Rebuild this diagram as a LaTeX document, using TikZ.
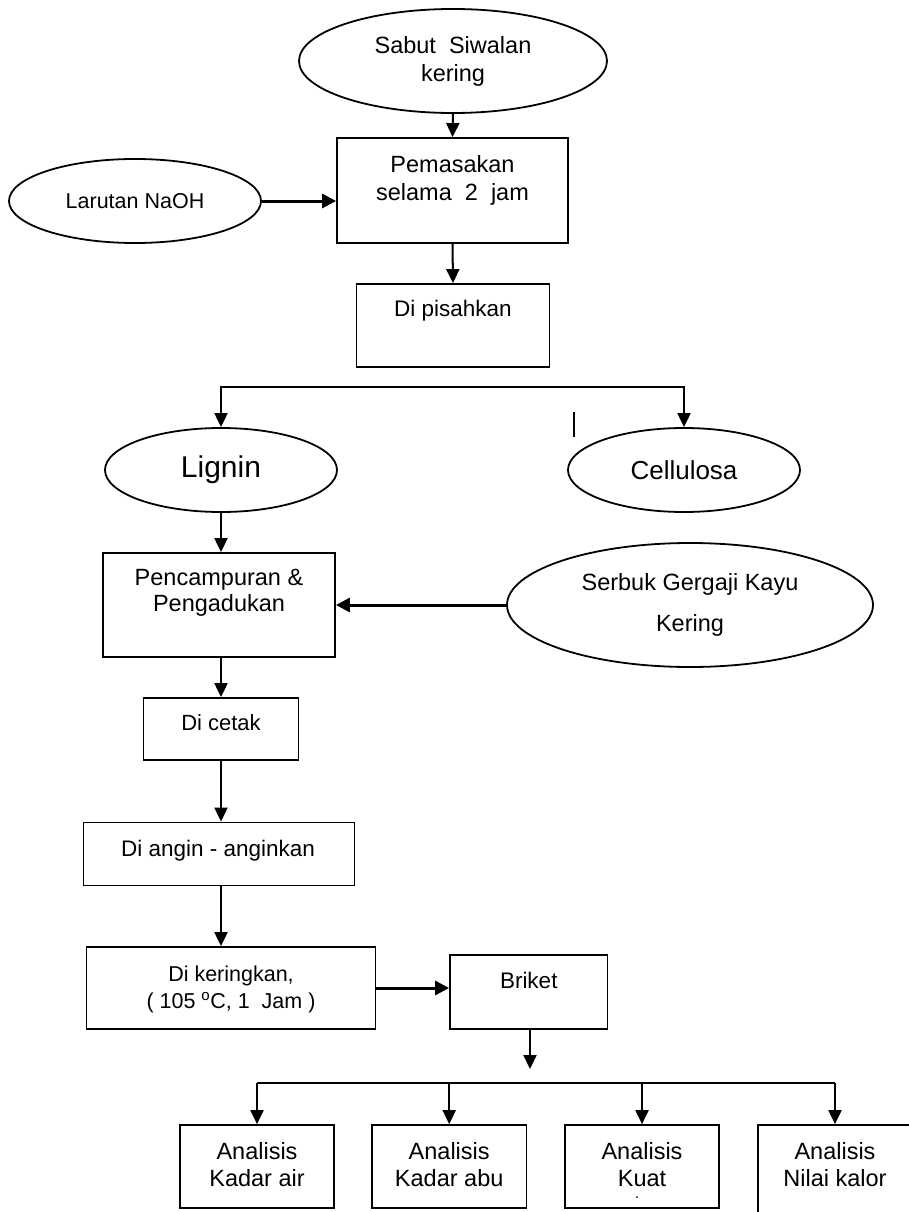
\documentclass[tikz,border=0pt]{standalone}
\usepackage{fontspec}
\setmainfont{Liberation Sans}
\usetikzlibrary{shapes.geometric,arrows.meta}
\begin{document}
\begin{tikzpicture}[x=1pt,y=-1pt,
  box/.style={draw,line width=1.8pt,rectangle,inner sep=0pt},
  oval/.style={draw,line width=1.8pt,ellipse,inner sep=0pt,align=center},
  txt/.style={inner sep=0pt,align=center,anchor=north},
  arr/.style={line width=2pt,-{Triangle[length=14pt,width=13pt]}},
  thickarr/.style={line width=3pt,-{Triangle[length=14pt,width=14pt]}},
  ln/.style={line width=2pt}]
\useasboundingbox (0,0) rectangle (909,1212);
\clip (0,0) rectangle (909,1212);

% ---- nodes
\node[oval,minimum width=308,minimum height=104,font=\fontsize{23.5}{28}\selectfont] (sabut) at (453,61) {Sabut\ \ Siwalan\\kering};
\node[oval,minimum width=252,minimum height=84,font=\fontsize{21.5}{24}\selectfont] (naoh) at (135,201) {Larutan NaOH};
\node[box,minimum width=231,minimum height=105] (pem) at (452.5,190.5) {};
\node[txt,font=\fontsize{23.5}{28}\selectfont] (pemt) at (452.5,155) {Pemasakan\\selama\ \ 2\ \ jam};
\node[box,minimum width=193,minimum height=83] (pis) at (453,325.5) {};
\node[txt,font=\fontsize{22.5}{26}\selectfont] (pist) at (453,300.3) {Di pisahkan};

\node[oval,minimum width=232,minimum height=84,font=\fontsize{30}{34}\selectfont] (lignin) at (221,470) {Lignin};
\node[oval,minimum width=232,minimum height=84,font=\fontsize{26}{30}\selectfont] (cell) at (684,470) {Cellulosa};

\node[box,minimum width=232,minimum height=104] (pen) at (219,605) {};
\node[txt,font=\fontsize{23.5}{26}\selectfont] (pent) at (219,568.8) {Pencampuran \&\\Pengadukan};
\node[oval,minimum width=366,minimum height=124,font=\fontsize{23.5}{41}\selectfont] (serbuk) at (690,605) {Serbuk Gergaji Kayu\\Kering};

\node[box,minimum width=155,minimum height=62] (cetak) at (221,729) {};
\node[txt,font=\fontsize{22}{24}\selectfont] (cetakt) at (221,714.7) {Di cetak};
\node[box,minimum width=271,minimum height=63] (angin) at (219,854) {};
\node[txt,font=\fontsize{22.5}{24}\selectfont] (angint) at (218,840.3) {Di angin - anginkan};
\node[box,minimum width=289,minimum height=82] (ker) at (231,988) {};
\node[txt,font=\fontsize{21.5}{26.6}\selectfont] (kert) at (231,966) {Di keringkan,\\( 105 \textsuperscript{o}C, 1\ \ Jam )};
\node[box,minimum width=157.5,minimum height=74] (briket) at (528.75,992) {};
\node[txt,font=\fontsize{22.5}{24}\selectfont] (brikett) at (528.75,971.9) {Briket};

\node[box,minimum width=154,minimum height=83.3] (a1) at (257,1166.7) {};
\node[txt,font=\fontsize{23.5}{27}\selectfont] (a1t) at (257,1141.8) {Analisis\\Kadar air};
\node[box,minimum width=154.4,minimum height=83.3] (a2) at (449.2,1166.7) {};
\node[txt,font=\fontsize{23.5}{27}\selectfont] (a2t) at (449.2,1141.8) {Analisis\\Kadar abu};
\node[box,minimum width=154,minimum height=83.3] (a3) at (642,1166.7) {};
\node[txt,font=\fontsize{23.5}{27}\selectfont] (a3t) at (642,1141.8) {Analisis\\Kuat};
\node[box,minimum width=154,minimum height=100] (a4) at (835,1175) {};
\node[txt,font=\fontsize{23.5}{27}\selectfont] (a4t) at (835,1141.8) {Analisis\\Nilai kalor};
\fill (637,1197) circle (1);

% ---- connectors
\draw[arr] (sabut.south) -- (pem.north);
\draw[thickarr] (naoh.east) -- (naoh.east -| pem.west);
\draw[arr] (pem.south) -- (pis.north);

\coordinate (sl) at (221,387);
\coordinate (sr) at (684,387);
\draw[line width=2pt,{Triangle[length=14pt,width=13pt]}-{Triangle[length=14pt,width=13pt]}] (lignin.north) -- (sl) -- (sr) -- (cell.north);
\draw[line width=1.6pt] (574,412) -- (574,437);

\draw[arr] (lignin.south) -- (lignin.south |- pen.north);
\draw[thickarr] (serbuk.west) -- (pen.east);
\draw[arr] (cetak.north |- pen.south) -- (cetak.north);
\draw[arr] (cetak.south) -- (cetak.south |- angin.north);
\draw[arr] (cetak.south |- angin.south) -- (cetak.south |- ker.north);
\draw[thickarr] (ker.east) -- (ker.east -| briket.west);
\coordinate (bend) at (530,1069);
\draw[arr] (briket.south -| bend) -- (bend);

\coordinate (h1) at (257,1083.3);
\coordinate (h4) at (835,1083.3);
\draw[ln] (h1) -- (h4);
\draw[arr] (h1 -| a1.north) -- (a1.north);
\draw[arr] (h1 -| a2.north) -- (a2.north);
\draw[arr] (h1 -| a3.north) -- (a3.north);
\draw[arr] (h1 -| a4.north) -- (a4.north);
\end{tikzpicture}
\end{document}
